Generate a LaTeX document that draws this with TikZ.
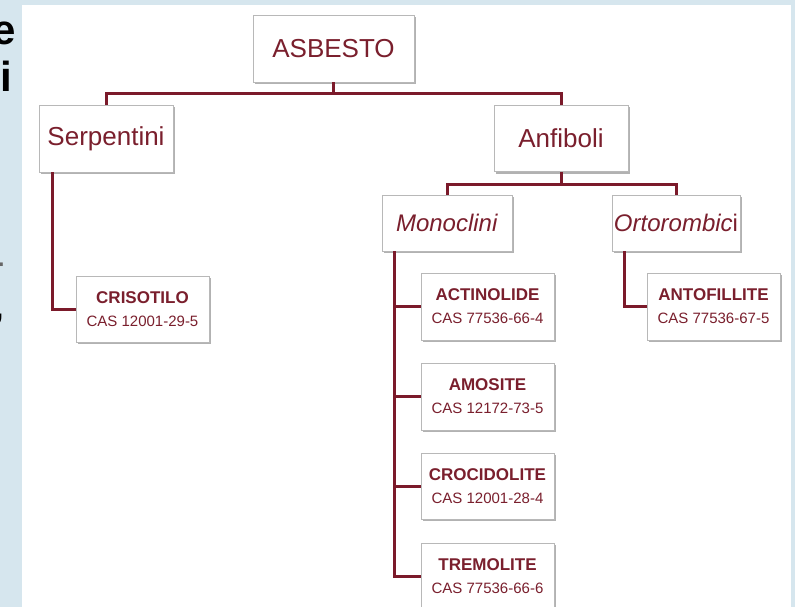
\documentclass[tikz,border=0pt]{standalone}
\usepackage{fontspec}
\setmainfont{Liberation Sans}
\usetikzlibrary{shadows}
\definecolor{bgblue}{HTML}{D6E6EE}
\definecolor{maroon}{HTML}{7A1F2D}
\definecolor{linec}{HTML}{7B1A2A}
\definecolor{boxline}{HTML}{B8B8B8}
\begin{document}
\begin{tikzpicture}[x=1pt,y=-1pt,
  box/.style={draw=boxline, line width=0.8pt, fill=white, inner sep=0pt, align=center, text=maroon,
    drop shadow={shadow xshift=1.5pt, shadow yshift=-2pt, fill=black, opacity=0.3}},
  big/.style={box, minimum height=67pt, font=\fontsize{26}{30}\selectfont},
  mid/.style={box, minimum height=56pt, font=\fontsize{24}{28}\selectfont},
  leaf/.style={box, minimum width=133pt, minimum height=67pt, font=\fontsize{15}{23}\selectfont},
  conn/.style={draw=linec, line width=3pt},
  frag/.style={inner sep=0pt, text=black, font=\fontsize{42}{42}\selectfont\bfseries}]
\clip (0,0) rectangle (795,607);
\fill[bgblue] (0,0) rectangle (795,607);
\fill[white] (22,5) rectangle (791,607);
% cut-off text fragments at the left edge
\begin{scope}
  \clip (0,0) rectangle (22,607);
  \node[frag, anchor=base west] (fe) at (-8,45) {e};
  \node[frag, anchor=base west] (fi) at (0,92) {i};
  \node[frag, anchor=base west, font=\fontsize{30}{30}\selectfont\bfseries, text=black!60] (fd) at (-6,272) {-};
  \node[frag, anchor=base west, font=\fontsize{30}{30}\selectfont\bfseries] (fc) at (-5,318) {,};
\end{scope}
% nodes
\node[big, minimum width=161pt] (asb) at (333.5,48.5) {ASBESTO};
\node[big, minimum width=134pt] (serp) at (106,138.5) {Serpentini};
\node[big, minimum width=134pt, minimum height=66pt] (anf) at (561,138.5) {Anfiboli};
\node[mid, minimum width=130pt] (mono) at (447,223) {\textit{Monoclini}};
\node[mid, minimum width=128pt] (orto) at (676,223) {\textit{Ortorombic}i};
\node[leaf, minimum height=66pt] (cris) at (142.5,309) {{\bfseries\fontsize{17}{23}\selectfont CRISOTILO}\\CAS 12001-29-5};
\node[leaf] (act) at (487.5,306.5) {{\bfseries\fontsize{17}{23}\selectfont ACTINOLIDE}\\CAS 77536-66-4};
\node[leaf] (amo) at (487.5,396.5) {{\bfseries\fontsize{17}{23}\selectfont AMOSITE}\\CAS 12172-73-5};
\node[leaf, minimum height=66pt] (cro) at (487.5,486) {{\bfseries\fontsize{17}{23}\selectfont CROCIDOLITE}\\CAS 12001-28-4};
\node[leaf] (tre) at (487.5,576.5) {{\bfseries\fontsize{17}{23}\selectfont TREMOLITE}\\CAS 77536-66-6};
\node[leaf] (ant) at (713.5,306.5) {{\bfseries\fontsize{17}{23}\selectfont ANTOFILLITE}\\CAS 77536-67-5};
% bus levels
\coordinate (b1) at (0,94);
\coordinate (b2) at (0,184);
% connectors
\draw[conn] (asb.south) -- (asb.south |- b1);
\draw[conn] (serp.north) |- (anf.north |- b1) -- (anf.north);
\draw[conn] (anf.south) -- (anf.south |- b2);
\draw[conn] (mono.north) |- (orto.north |- b2) -- (orto.north);
\draw[conn] ([xshift=14pt]serp.south west) |- (cris.west);
\draw[conn] ([xshift=13pt]mono.south west) |- (act.west);
\draw[conn] ([xshift=13pt]mono.south west) |- (amo.west);
\draw[conn] ([xshift=13pt]mono.south west) |- (cro.west);
\draw[conn] ([xshift=13pt]mono.south west) |- (tre.west);
\draw[conn] ([xshift=13pt]orto.south west) |- (ant.west);
\end{tikzpicture}
\end{document}
